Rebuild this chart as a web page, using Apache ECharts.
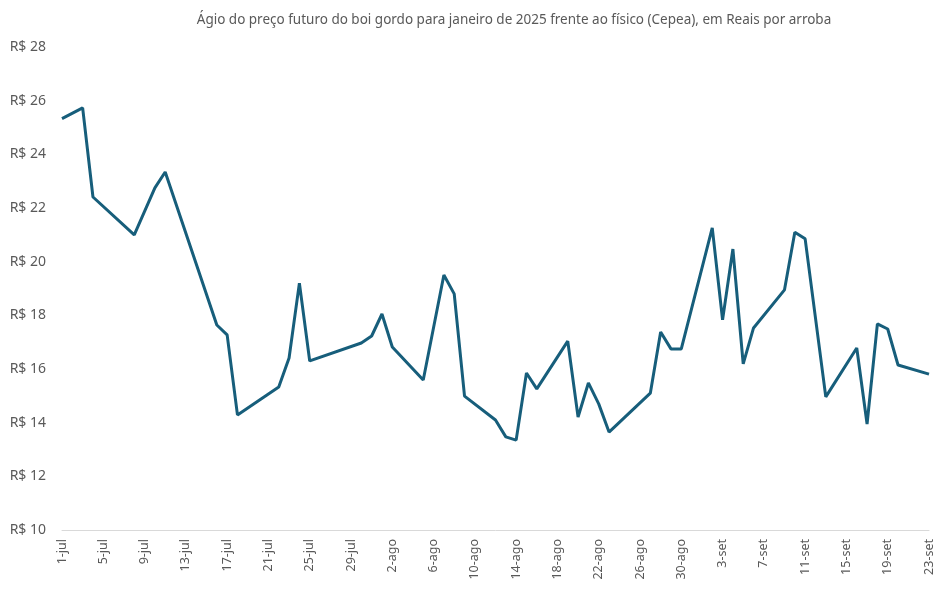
<!DOCTYPE html>
<html>
<head>
<meta charset="utf-8">
<script src="https://cdn.jsdelivr.net/npm/echarts@6/dist/echarts.min.js"></script>
<style>html,body{margin:0;padding:0;background:#fff}#c{width:948px;height:590px}</style>
</head>
<body>
<div id="c"></div>
<script>
const months = [['jul', 31], ['ago', 31], ['set', 23]];
const pointDates = ['1-jul','3-jul','4-jul','8-jul','10-jul','11-jul','16-jul','17-jul','18-jul','22-jul','23-jul','24-jul','25-jul','30-jul','31-jul',
  '1-ago','2-ago','5-ago','7-ago','8-ago','9-ago','12-ago','13-ago','14-ago','15-ago','16-ago','19-ago','20-ago','21-ago','22-ago','23-ago','27-ago','28-ago','29-ago','30-ago',
  '2-set','3-set','4-set','5-set','6-set','9-set','10-set','11-set','13-set','16-set','17-set','18-set','19-set','20-set','23-set'];
const pointValues = [25.33,25.73,22.41,21.0,22.75,23.34,17.64,17.27,14.29,15.33,16.41,19.2,16.3,16.97,17.23,
  18.05,16.82,15.59,19.5,18.8,14.99,14.1,13.47,13.35,15.85,15.26,17.04,14.21,15.48,14.7,13.65,15.1,17.38,16.75,16.75,
  21.26,17.83,20.47,16.19,17.53,18.95,21.1,20.85,14.96,16.78,13.95,17.68,17.49,16.15,15.81];
const yTicks = [10, 12, 14, 16, 18, 20, 22, 24, 26, 28];

const categories = [];
months.forEach(([m, n]) => { for (let d = 1; d <= n; d++) categories.push(d + '-' + m); });
const lookup = {};
pointDates.forEach((d, i) => { lookup[d] = pointValues[i]; });
const seriesData = categories.map(c => (c in lookup ? lookup[c] : null));

const chart = echarts.init(document.getElementById('c'));
chart.setOption({
  animation: false,
  title: {
    text: 'Ágio do preço futuro do boi gordo para janeiro de 2025 frente ao físico (Cepea), em Reais por arroba',
    left: 509, textAlign: 'center', top: 8,
    textStyle: { fontFamily: 'Noto Sans', fontSize: 13.5, fontWeight: 'normal', color: '#595959' }
  },
  grid: { left: 62, right: 19, top: 47, bottom: 60 },
  xAxis: {
    type: 'category', data: categories, boundaryGap: false,
    axisLine: { lineStyle: { color: '#d9d9d9', width: 1 } },
    axisTick: { show: false },
    axisLabel: { interval: 3, rotate: 90, margin: 9, color: '#595959', fontFamily: 'Noto Sans', fontSize: 12.5 }
  },
  yAxis: {
    type: 'value', min: yTicks[0], max: yTicks[yTicks.length - 1], interval: 2,
    axisLine: { show: false }, axisTick: { show: false }, splitLine: { show: false },
    axisLabel: { margin: 16, color: '#595959', fontFamily: 'Noto Sans', fontSize: 14, formatter: v => 'R$ ' + v }
  },
  series: [{
    type: 'line', data: seriesData, connectNulls: true, showSymbol: false, symbol: 'none',
    lineStyle: { color: '#175e7b', width: 3 }
  }]
});
</script>
</body>
</html>
